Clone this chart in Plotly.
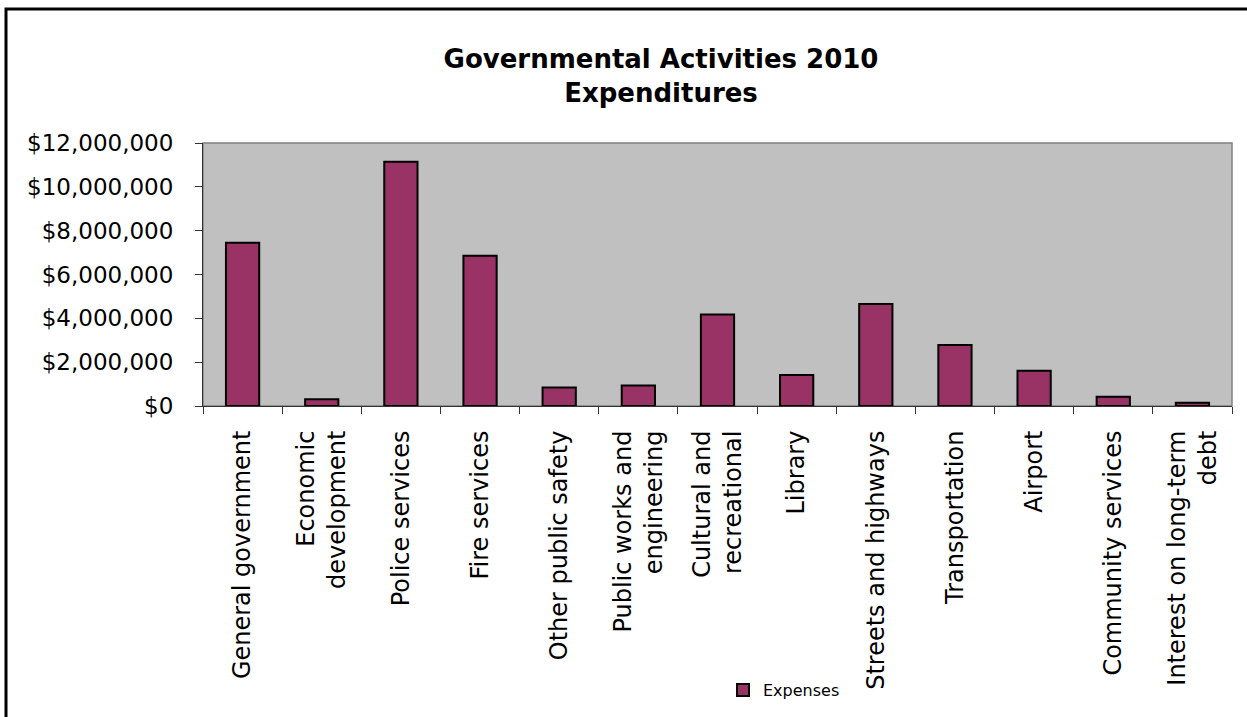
import plotly.graph_objects as go

categories = [
    "General government",
    "Economic<br>development",
    "Police services",
    "Fire services",
    "Other public safety",
    "Public works and<br>engineering",
    "Cultural and<br>recreational",
    "Library",
    "Streets and highways",
    "Transportation",
    "Airport",
    "Community services",
    "Interest on long-term<br>debt",
]
expenses = [7450000, 310000, 11150000, 6860000, 840000, 940000, 4180000,
            1410000, 4650000, 2780000, 1610000, 420000, 150000]
y_ticks = [0, 2000000, 4000000, 6000000, 8000000, 10000000, 12000000]
y_tick_labels = ["$" + format(v, ",d") for v in y_ticks]

W, H = 1247, 717
L, R, T, B = 203, 1232, 143, 406
pw, ph = R - L, B - T

def px(x):
    return (x - L) / pw

def py(y):
    return (B - y) / ph

fig = go.Figure()
fig.add_trace(go.Bar(
    x=categories, y=expenses, name="Expenses",
    marker=dict(color="#993366", line=dict(color="black", width=2)),
    width=0.42,
))

fig.update_layout(
    width=W, height=H,
    margin=dict(l=L, r=W - R, t=T, b=H - B, autoexpand=False),
    paper_bgcolor="white",
    plot_bgcolor="#C0C0C0",
    font=dict(family="DejaVu Sans", color="black"),
    title=dict(
        text="<b>Governmental Activities 2010<br>Expenditures</b>",
        font=dict(family="DejaVu Sans", size=26, color="black"),
        x=px(661), xref="paper", xanchor="center",
        y=1 - 68 / H, yref="container", yanchor="top",
    ),
    showlegend=True,
    legend=dict(
        orientation="h",
        x=px(723), xanchor="left",
        y=py(690), yanchor="middle",
        font=dict(family="DejaVu Sans", size=16, color="black"),
        bgcolor="rgba(0,0,0,0)",
        itemwidth=30,
    ),
    bargap=0.58,
)

fig.update_xaxes(
    type="category",
    tickangle=-90,
    tickfont=dict(family="DejaVu Sans", size=24, color="black"),
    ticks="outside", tickson="boundaries", ticklen=7, tickcolor="#333",
    showline=True, linecolor="#333", linewidth=1,
    showgrid=False, ticklabelstandoff=14,
)
fig.update_yaxes(
    range=[0, 12000000],
    tickmode="array", tickvals=y_ticks, ticktext=y_tick_labels,
    tickfont=dict(family="DejaVu Sans", size=23, color="black"),
    ticks="outside", ticklen=7, tickcolor="#333",
    showline=True, linecolor="#333", linewidth=1,
    showgrid=False, zeroline=False, ticklabelstandoff=17,
)

# plot-area border (gray top/right)
fig.add_shape(type="rect", xref="paper", yref="paper", x0=0, y0=0, x1=1, y1=1,
              line=dict(color="#808080", width=1.5), layer="below")
# outer chart border
fig.add_shape(type="rect", xref="paper", yref="paper",
              x0=px(6), y0=py(H + 5), x1=px(W + 5), y1=py(9),
              line=dict(color="black", width=3))

fig.write_html("out.html")
